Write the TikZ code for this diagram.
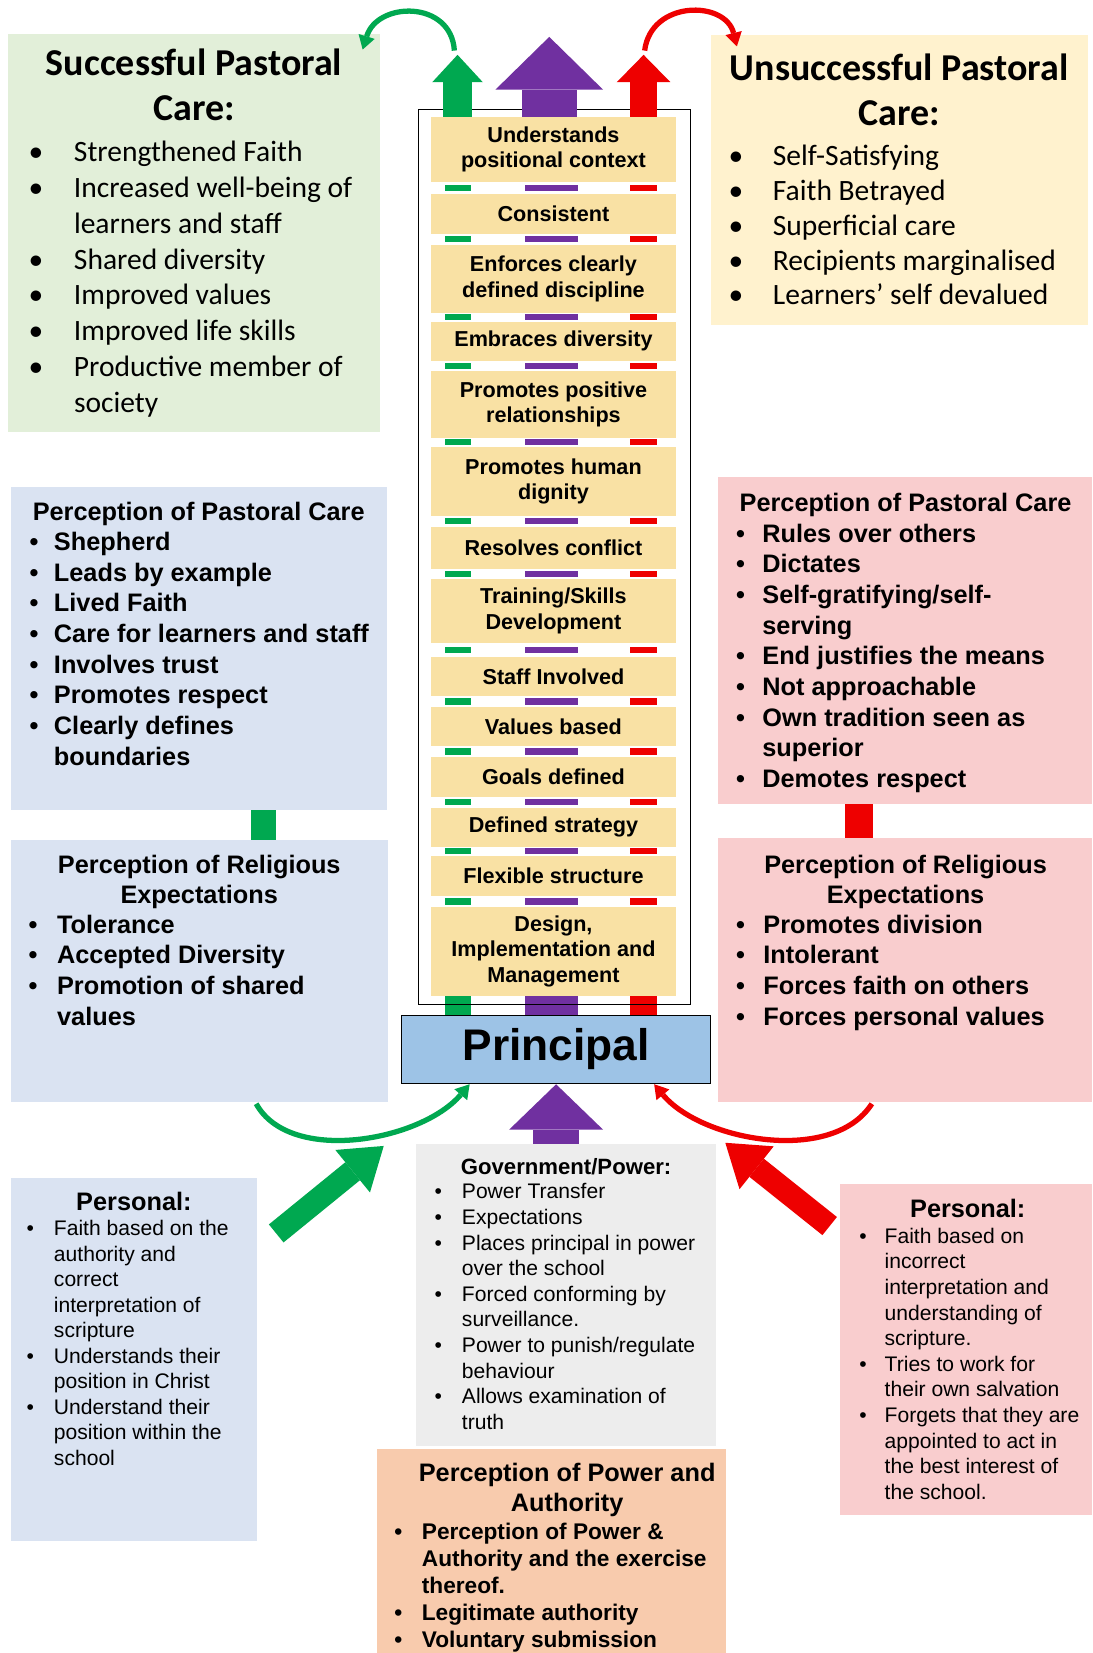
\documentclass[tikz,border=0pt]{standalone}
\usepackage{fontspec}
\setmainfont{Liberation Sans}
\newfontfamily\calibri{Carlito}
\usetikzlibrary{arrows.meta, calc}

\definecolor{sgreen}{RGB}{226,239,217}
\definecolor{ucream}{RGB}{255,242,206}
\definecolor{lblue}{RGB}{218,227,242}
\definecolor{lpink}{RGB}{249,205,206}
\definecolor{lgrey}{RGB}{237,237,237}
\definecolor{peach}{RGB}{248,203,173}
\definecolor{pblue}{RGB}{157,195,230}
\definecolor{ylw}{RGB}{249,225,164}
\definecolor{grn}{RGB}{0,168,80}
\definecolor{prp}{RGB}{112,48,160}
\definecolor{rd}{RGB}{238,0,0}

\newlength{\bw}
\newcommand{\itm}{\makebox[\bw][l]{\textbullet}}
\newcommand{\cnt}{\hspace*{\bw}}

\tikzset{
  panel/.style={anchor=north west, inner sep=0pt, outer sep=0pt},
  ttl/.style={anchor=north, inner sep=0pt, align=center},
  hdr/.style={anchor=base, inner sep=0pt},
  lst/.style={anchor=north west, inner sep=0pt, align=left},
  rung/.style={fill=ylw, inner sep=0pt, minimum width=232, align=center,
    font=\bfseries\fontsize{20.5}{24}\selectfont},
  block/.style args={#1/#2/#3}{line width=#1,
    -{Triangle[width=#2, length=#3, line width=0pt]}},
  curvearrow/.style={line width=5pt, -{Triangle[width=16pt, length=13pt, line width=0pt]}}
}

\begin{document}
\begin{tikzpicture}[x=1pt, y=-1pt]
\fill[white] (0,0) rectangle (1036,1568);
\useasboundingbox (0,0) rectangle (1036,1568);

\node[panel, fill=sgreen, minimum width=352, minimum height=378] (succ) at (8,32) {};
\node[ttl, font=\calibri\bfseries\fontsize{36}{43}\selectfont] (succT) at (184,40.9)
  {\strut Successful Pastoral\\Care:};
\node[lst, font=\calibri\fontsize{28}{34}\selectfont\setlength{\bw}{43pt}] (succL) at (27,129.2)
  {\strut\itm Strengthened Faith\\
   \itm Increased well-being of\\
   \cnt learners and staff\\
   \itm Shared diversity\\
   \itm Improved values\\
   \itm Improved life skills\\
   \itm Productive member of\\
   \cnt society};

\node[panel, fill=ucream, minimum width=358, minimum height=275] (unsucc) at (674,33) {};
\node[ttl, font=\calibri\bfseries\fontsize{36}{43}\selectfont] (unsuccT) at (853,45.9)
  {\strut Unsuccessful Pastoral\\Care:};
\node[lst, font=\calibri\fontsize{28}{33}\selectfont\setlength{\bw}{42pt}] (unsuccL) at (691,133.9)
  {\strut\itm Self-Satisfying\\
   \itm Faith Betrayed\\
   \itm Superficial care\\
   \itm Recipients marginalised\\
   \itm Learners’ self devalued};

\node[panel, fill=lblue, minimum width=357, minimum height=306] (lpc) at (10,462) {};
\node[hdr, font=\bfseries\fontsize{24}{29}\selectfont] (lpcT) at (188.5,494) {Perception of Pastoral Care};
\node[lst, font=\bfseries\fontsize{24}{29.1}\selectfont\setlength{\bw}{23pt}] (lpcL) at (28,501.6)
  {\strut\itm Shepherd\\
   \itm Leads by example\\
   \itm Lived Faith\\
   \itm Care for learners and staff\\
   \itm Involves trust\\
   \itm Promotes respect\\
   \itm Clearly defines\\
   \cnt boundaries};

\node[panel, fill=lblue, minimum width=358, minimum height=248] (lre) at (10,797) {};
\node[ttl, font=\bfseries\fontsize{24}{28.5}\selectfont] (lreT) at (189,808)
  {\strut Perception of Religious\\Expectations};
\node[lst, font=\bfseries\fontsize{24}{29.1}\selectfont\setlength{\bw}{27pt}] (lreL) at (27,864.7)
  {\strut\itm Tolerance\\
   \itm Accepted Diversity\\
   \itm Promotion of shared\\
   \cnt values};

\node[panel, fill=lpink, minimum width=355, minimum height=311] (rpc) at (681,452) {};
\node[hdr, font=\bfseries\fontsize{24}{29}\selectfont] (rpcT) at (859,485) {Perception of Pastoral Care};
\node[lst, font=\bfseries\fontsize{24}{29.1}\selectfont\setlength{\bw}{25pt}] (rpcL) at (698,493.6)
  {\strut\itm Rules over others\\
   \itm Dictates\\
   \itm Self-gratifying/self-\\
   \cnt serving\\
   \itm End justifies the means\\
   \itm Not approachable\\
   \itm Own tradition seen as\\
   \cnt superior\\
   \itm Demotes respect};

\node[panel, fill=lpink, minimum width=355, minimum height=250] (rre) at (681,795) {};
\node[ttl, font=\bfseries\fontsize{24}{28.5}\selectfont] (rreT) at (859,808)
  {\strut Perception of Religious\\Expectations};
\node[lst, font=\bfseries\fontsize{24}{29.1}\selectfont\setlength{\bw}{26pt}] (rreL) at (698,864.7)
  {\strut\itm Promotes division\\
   \itm Intolerant\\
   \itm Forces faith on others\\
   \itm Forces personal values};

\fill[grn] ($(lpc.south)+(49.5,0)$) rectangle ($(lre.north)+(73,0)$);
\fill[rd] ($(rpc.south)+(-56.5,0)$) rectangle ($(rre.north)+(-30.5,0)$);

\foreach \ya/\yb/\lbl [count=\i] in {
    111/173/{Understands\\positional context},
    184/222/{Consistent},
    232/297/{Enforces clearly\\defined discipline},
    305/342/{Embraces diversity},
    352/415/{Promotes positive\\relationships},
    424/489/{Promotes human\\dignity},
    500/540/{Resolves conflict},
    549/610/{Training/Skills\\Development},
    623/660/{Staff Involved},
    671/708/{Values based},
    718/756/{Goals defined},
    766/803/{Defined strategy},
    812/850/{Flexible structure},
    860/945/{Design,\\Implementation and\\Management}}
  \node[rung, minimum height={\yb-\ya}] (y\i) at (525,{(\ya+\yb)/2}) {\lbl};

\foreach \g in {178.5,227,301,347,419.5,494.5,544.5,616.5,665.5,713,761,807.5,855} {
  \fill[grn] (422,\g-3) rectangle (447,\g+3);
  \fill[prp] (498,\g-3) rectangle (548,\g+3);
  \fill[rd] (598,\g-3) rectangle (623,\g+3);
}

\node[draw, fill=pblue, line width=1pt, minimum width=293, minimum height=65, inner sep=0pt,
  font=\bfseries\fontsize{42}{50}\selectfont] (prin) at (527.5,995.5) {Principal};

\fill[grn] (422,0 |- y14.south) rectangle (447,0 |- prin.north);
\fill[prp] (498,0 |- y14.south) rectangle (548,0 |- prin.north);
\fill[rd] (598,0 |- y14.south) rectangle (623,0 |- prin.north);

\node[panel, draw, line width=1pt, minimum width=258, minimum height=849] (frame) at (397,104) {};

\coordinate (gtip) at (434,52);
\coordinate (ptip) at (521,35);
\coordinate (rtip) at (610.5,52);
\draw[grn, block=28pt/48pt/26pt] (gtip |- y1.north) -- (gtip);
\draw[prp, block=52pt/102pt/50pt] (ptip |- y1.north) -- (ptip);
\draw[rd, block=25pt/51pt/26pt] (rtip |- y1.north) -- (rtip);

\draw[grn, curvearrow] ($(gtip)+(-3,-4)$) .. controls +(-3,-48) and +(14,-46) .. ($(succ.north east)+(-16,15)$);
\draw[rd, curvearrow] ($(rtip)+(1,-4)$) .. controls +(6,-48) and +(-11,-44) .. ($(unsucc.north west)+(25,11)$);

\node[panel, fill=lgrey, minimum width=284, minimum height=287] (gov) at (395,1085) {};
\node[hdr, font=\bfseries\fontsize{21}{25}\selectfont] (govT) at (537,1114) {Government/Power:};
\node[lst, font=\fontsize{20}{24.3}\selectfont\setlength{\bw}{26pt}] (govL) at (412,1120)
  {\strut\itm Power Transfer\\
   \itm Expectations\\
   \itm Places principal in power\\
   \cnt over the school\\
   \itm Forced conforming by\\
   \cnt surveillance.\\
   \itm Power to punish/regulate\\
   \cnt behaviour\\
   \itm Allows examination of\\
   \cnt truth};

\node[panel, fill=peach, minimum width=331, minimum height=196] (auth) at (358,1374) {};
\node[ttl, font=\bfseries\fontsize{24}{29}\selectfont] (authT) at (538,1384.7)
  {\strut Perception of Power and\\Authority};
\node[lst, font=\bfseries\fontsize{21.5}{25.7}\selectfont\setlength{\bw}{26pt}] (authL) at (374,1442)
  {\strut\itm Perception of Power \&\\
   \cnt Authority and the exercise\\
   \cnt thereof.\\
   \itm Legitimate authority\\
   \itm Voluntary submission};

\node[panel, fill=lblue, minimum width=234, minimum height=345] (lpe) at (10,1117) {};
\node[hdr, font=\bfseries\fontsize{24}{29}\selectfont] (lpeT) at (127,1148) {Personal:};
\node[lst, font=\fontsize{20}{24.2}\selectfont\setlength{\bw}{26pt}] (lpeL) at (25,1155)
  {\strut\itm Faith based on the\\
   \cnt authority and\\
   \cnt correct\\
   \cnt interpretation of\\
   \cnt scripture\\
   \itm Understands their\\
   \cnt position in Christ\\
   \itm Understand their\\
   \cnt position within the\\
   \cnt school};

\node[panel, fill=lpink, minimum width=239, minimum height=314] (rpe) at (797,1123) {};
\node[hdr, font=\bfseries\fontsize{24}{29}\selectfont] (rpeT) at (918,1155) {Personal:};
\node[lst, font=\fontsize{20}{24.3}\selectfont\setlength{\bw}{24pt}] (rpeL) at (815,1162)
  {\strut\itm Faith based on\\
   \cnt incorrect\\
   \cnt interpretation and\\
   \cnt understanding of\\
   \cnt scripture.\\
   \itm Tries to work for\\
   \cnt their own salvation\\
   \itm Forgets that they are\\
   \cnt appointed to act in\\
   \cnt the best interest of\\
   \cnt the school.};

\draw[prp, block=44pt/89pt/43pt] (prin.south |- gov.north) -- (prin.south);

\draw[grn, curvearrow] ($(lre.south)+(54,2)$) .. controls +(32,58) and +(-46,54) .. ($(prin.south west)+(65,0)$);
\draw[rd, curvearrow] ($(rre.south)+(-31.5,2)$) .. controls +(-37,58) and +(45,54) .. ($(prin.south east)+(-54,0)$);

\coordinate (gdiag) at (364,1087);
\coordinate (rdiag) at (688,1084);
\draw[grn, block=22pt/52pt/38pt] ($(lpe.north east)+(18,53)$) -- (gdiag);
\draw[rd, block=22pt/52pt/38pt] ($(rpe.north west)+(-10,40)$) -- (rdiag);
\end{tikzpicture}
\end{document}
